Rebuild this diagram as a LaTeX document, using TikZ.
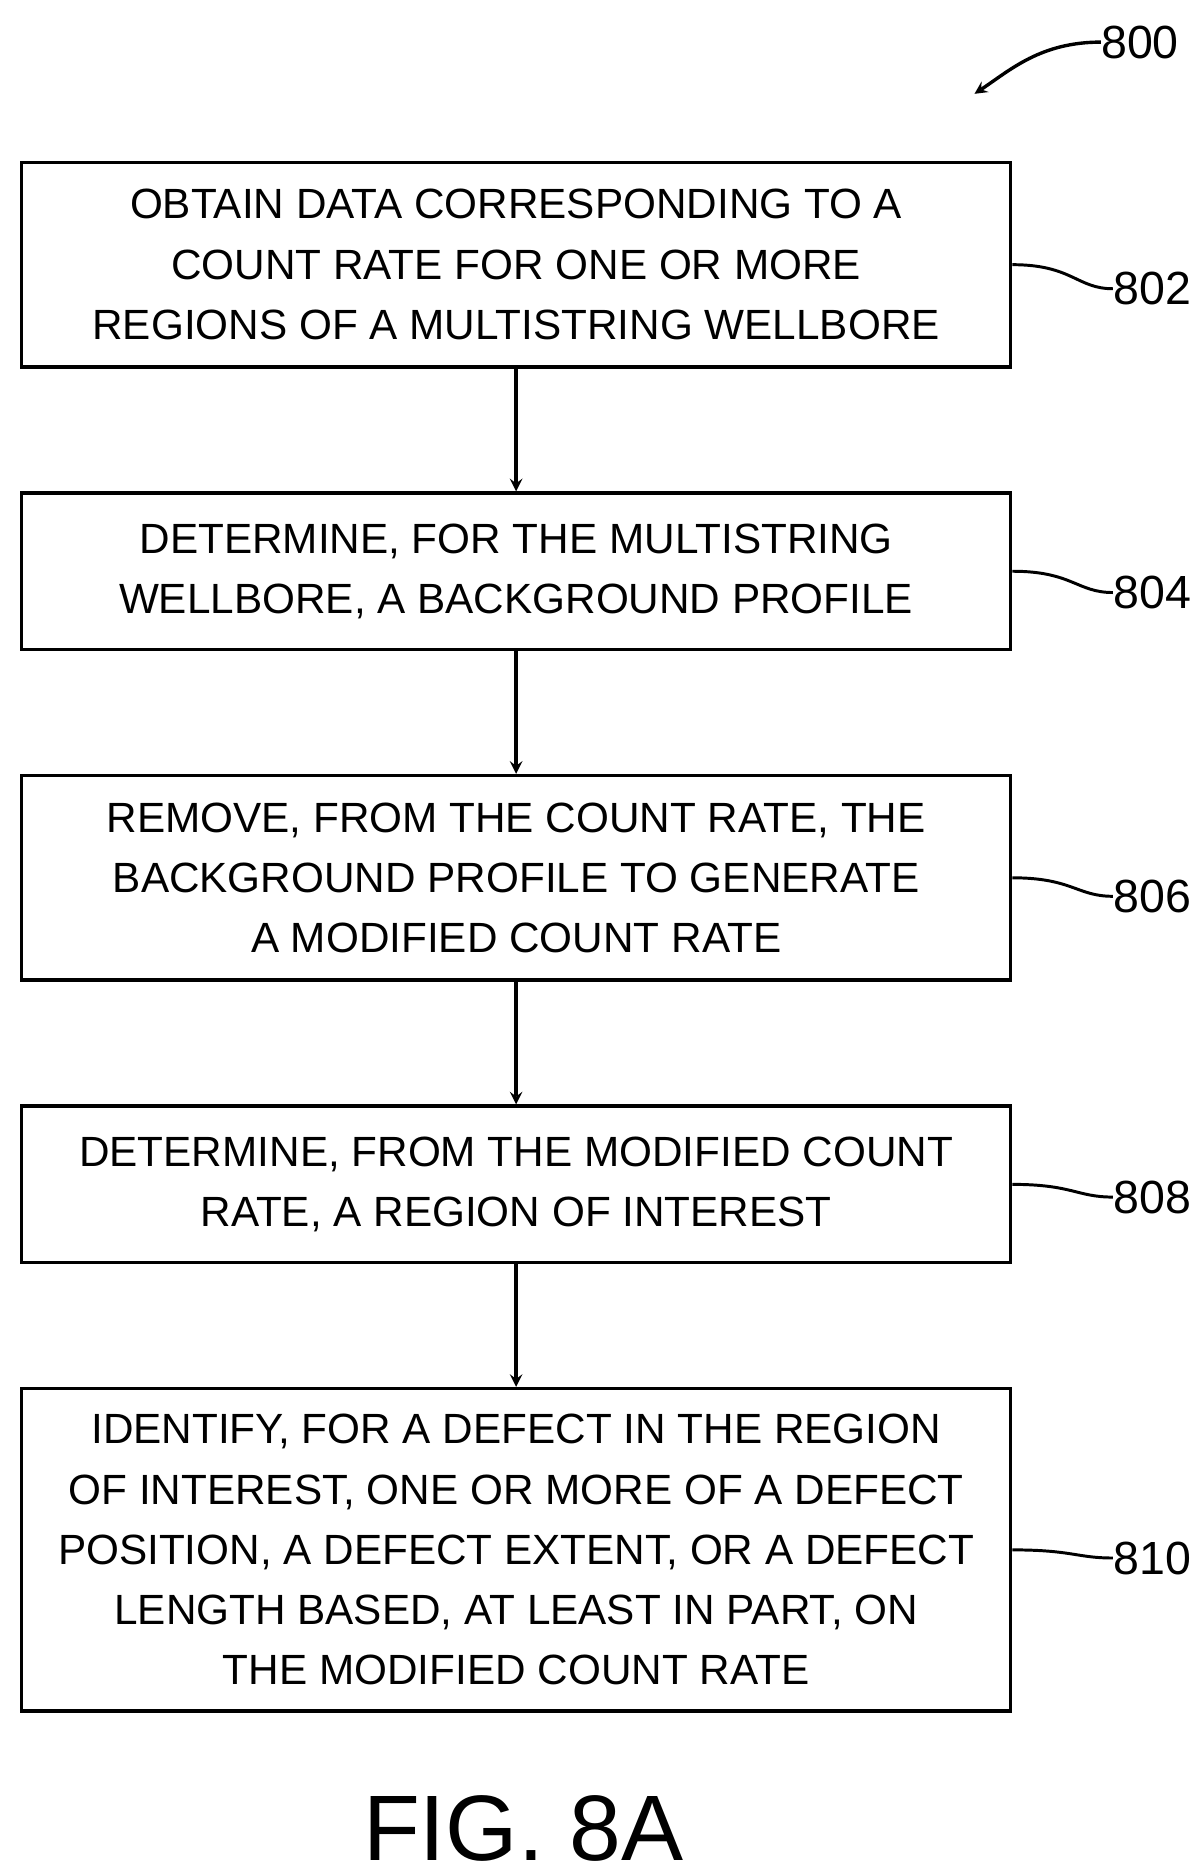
\documentclass[tikz,border=0pt]{standalone}
\usepackage{fontspec}
\setmainfont{Liberation Sans}
\usetikzlibrary{positioning, arrows}
\tikzstyle{stepbox} = [rectangle, minimum width=16.44cm, align=center, draw=black, line width=1.6pt, inner sep=2pt, font=\fontsize{20}{28.5}\selectfont]
\tikzstyle{ref} = [font=\fontsize{22}{26}\selectfont, anchor=west, inner sep=0pt]
\tikzstyle{arrow} = [line width=1.6pt,->,>=stealth]
\tikzstyle{lead} = [line width=1.4pt]

\begin{document}
\begin{tikzpicture}[node distance=2.04cm]
\useasboundingbox (0,0) rectangle (20,-31.12);

% Boxes
\node (obtain) [stepbox, minimum height=3.4cm] at (8.58,-4.4) {OBTAIN DATA CORRESPONDING TO A\\ COUNT RATE FOR ONE OR MORE\\ REGIONS OF A MULTISTRING WELLBORE};
\node (background) [stepbox, minimum height=2.6cm, below=of obtain] {DETERMINE, FOR THE MULTISTRING\\ WELLBORE, A BACKGROUND PROFILE};
\node (remove) [stepbox, minimum height=3.4cm, below=of background] {REMOVE, FROM THE COUNT RATE, THE\\ BACKGROUND PROFILE TO GENERATE\\ A MODIFIED COUNT RATE};
\node (interest) [stepbox, minimum height=2.6cm, below=of remove] {DETERMINE, FROM THE MODIFIED COUNT\\ RATE, A REGION OF INTEREST};
\node (identify) [stepbox, minimum height=5.36cm, below=of interest] {IDENTIFY, FOR A DEFECT IN THE REGION\\ OF INTEREST, ONE OR MORE OF A DEFECT\\ POSITION, A DEFECT EXTENT, OR A DEFECT\\ LENGTH BASED, AT LEAST IN PART, ON\\ THE MODIFIED COUNT RATE};

% Reference numerals
\node (n800) [ref] at (18.3,-0.7) {800};
\node (n802) [ref] at (18.5,-4.8) {802};
\node (n804) [ref] at (18.5,-9.85) {804};
\node (n806) [ref] at (18.5,-14.9) {806};
\node (n808) [ref] at (18.5,-19.9) {808};
\node (n810) [ref] at (18.5,-25.9) {810};
\node (fig) [font=\fontsize{44}{50}\selectfont] at (8.7,-30.4) {FIG. 8A};

% Arrows
\draw [arrow] (obtain) -- (background);
\draw [arrow] (background) -- (remove);
\draw [arrow] (remove) -- (interest);
\draw [arrow] (interest) -- (identify);

% Leaders
\draw [arrow] (n800.west) .. controls +(-1,0) and +(0.6,0.4) .. (16.2,-1.56);
\draw [lead] (obtain.east) .. controls +(1,0) and +(-0.6,0) .. (n802.west);
\draw [lead] (background.east) .. controls +(1,0) and +(-0.6,0) .. (n804.west);
\draw [lead] (remove.east) .. controls +(1,0) and +(-0.6,0) .. (n806.west);
\draw [lead] (interest.east) .. controls +(1,0) and +(-0.6,0) .. (n808.west);
\draw [lead] (identify.east) .. controls +(1,0) and +(-0.6,0) .. (n810.west);

\end{tikzpicture}
\end{document}
